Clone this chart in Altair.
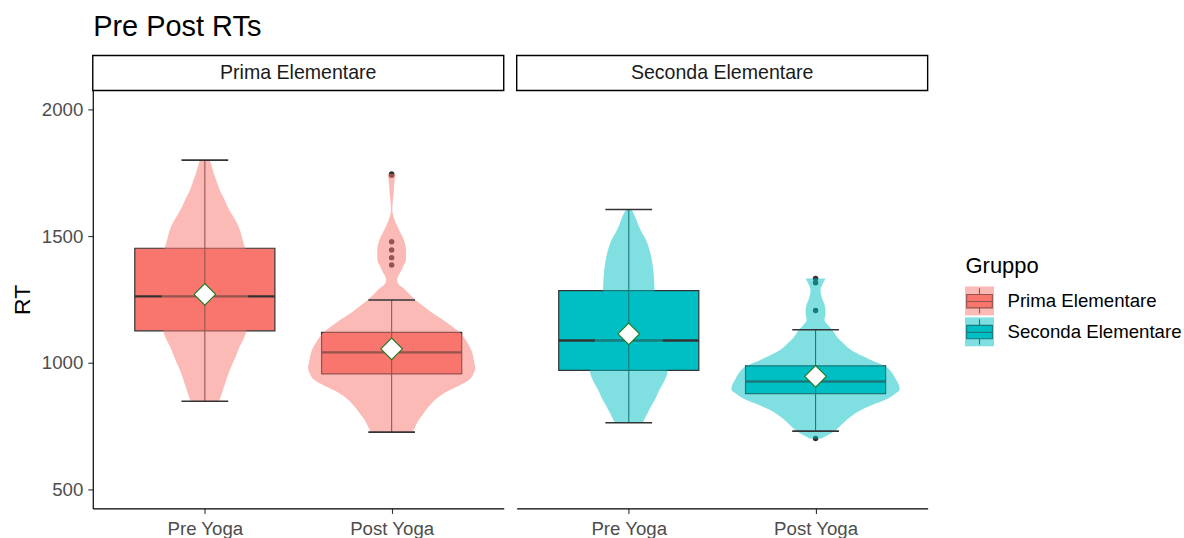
import altair as alt
import pandas as pd

# ---------------- data ----------------
groups = ["Prima Elementare", "Seconda Elementare"]
conditions = ["Pre Yoga", "Post Yoga"]
fill_colors = ["#F8766D", "#00BFC4"]

# box-plot statistics (one entry per group x condition)
box_group = ["Prima Elementare", "Prima Elementare", "Seconda Elementare", "Seconda Elementare"]
box_cond = ["Pre Yoga", "Post Yoga", "Pre Yoga", "Post Yoga"]
whisker_low = [848, 726, 763, 730]
quart_1 = [1126, 956, 970, 878]
medians = [1262, 1041, 1088, 926]
quart_3 = [1452, 1120, 1285, 988]
whisker_high = [1800, 1248, 1605, 1130]
means = [1270, 1055, 1114, 946]

# outliers
out_group = ["Prima Elementare"] * 6 + ["Seconda Elementare"] * 4
out_cond = ["Post Yoga"] * 10
out_rt = [1745, 1740, 1478, 1445, 1415, 1386, 1333, 1316, 1206, 701]

# violin outlines: RT values and relative density (widest = 84.5)
prima_pre_rt = [1800, 1775, 1747, 1715, 1681, 1650, 1615, 1580, 1550, 1515, 1484, 1452, 1400, 1350,
                1300, 1250, 1200, 1160, 1123, 1095, 1064, 1025, 986, 950, 920, 890, 867, 848]
prima_pre_dens = [5, 7, 9, 12, 15, 19, 23, 28, 32.5, 36, 38, 40.5, 42, 43,
                  43.5, 43.4, 43, 42.5, 41.7, 39, 35, 31, 26.7, 23, 20.5, 18, 16, 14]

prima_post_rt = [1745, 1720, 1668, 1630, 1602, 1575, 1550, 1520, 1497, 1470, 1445, 1406, 1385, 1366,
                 1345, 1327, 1310, 1294, 1270, 1248, 1220, 1196, 1160, 1121, 1080, 1040, 1012, 979,
                 955, 933, 910, 881, 855, 828, 800, 776, 750, 726]
prima_post_dens = [4, 3, 2, 1, 0.7, 2, 4.5, 8, 11, 13.5, 14.5, 14.4, 12, 10,
                   7, 5.5, 7, 12, 18, 24, 33, 41, 55, 68, 76, 81, 82.5, 84,
                   82, 78, 68, 53, 44, 37.5, 32, 27.5, 24, 21]

seconda_pre_rt = [1605, 1580, 1550, 1515, 1484, 1450, 1419, 1385, 1353, 1320, 1287, 1250, 1200, 1150,
                  1100, 1050, 1000, 966, 930, 894, 860, 828, 795, 763]
seconda_pre_dens = [3, 6, 9, 13, 17.5, 20.5, 22.5, 24, 25, 25.5, 26, 27, 29, 31,
                    33.5, 36, 38.5, 39, 36, 31, 27, 22.5, 18, 14]

seconda_post_rt = [1333, 1310, 1287, 1270, 1255, 1230, 1209, 1190, 1169, 1150, 1130, 1100, 1077, 1055,
                   1038, 1012, 986, 960, 933, 910, 894, 875, 854, 835, 815, 795, 776, 755,
                   736, 720, 710, 701]
seconda_post_dens = [10, 7, 5, 5.5, 6.5, 9, 10, 9.9, 9, 12, 16.7, 22, 28, 34,
                     41, 55, 70, 77, 81, 84, 84.5, 79, 70, 58, 46.7, 38, 31.7, 26,
                     21, 15, 10, 6]

y_ticks = [500, 1000, 1500, 2000]

# ---------------- tables ----------------
pos_of = {c: i + 1 for i, c in enumerate(conditions)}

box_df = pd.DataFrame({
    "Gruppo": box_group, "cond": box_cond, "lo": whisker_low, "q1": quart_1,
    "med": medians, "q3": quart_3, "hi": whisker_high, "mean": means,
})
box_df["pos"] = box_df["cond"].map(pos_of)

out_df = pd.DataFrame({"Gruppo": out_group, "cond": out_cond, "rt": out_rt})
out_df["pos"] = out_df["cond"].map(pos_of)

violins = {
    ("Prima Elementare", "Pre Yoga"): (prima_pre_rt, prima_pre_dens),
    ("Prima Elementare", "Post Yoga"): (prima_post_rt, prima_post_dens),
    ("Seconda Elementare", "Pre Yoga"): (seconda_pre_rt, seconda_pre_dens),
    ("Seconda Elementare", "Post Yoga"): (seconda_post_rt, seconda_post_dens),
}
max_dens = max(max(d) for _, d in violins.values())
HALF = 0.45  # ggplot violin width 0.9

# ---------------- styling ----------------
FONT = "Liberation Sans"
W, H = 412, 419
DARK = "#333333"

yscale = alt.Scale(domain=[425, 2075], nice=False, zero=False)
xscale = alt.Scale(domain=[0.4, 2.6], nice=False, zero=False)
cscale = alt.Scale(domain=groups, range=fill_colors)

label_expr = " : ".join(
    [f"datum.value == {pos_of[c]} ? '{c}'" for c in conditions[:-1]] + [f"'{conditions[-1]}'"]
)

xaxis = alt.Axis(values=[1, 2], labelExpr=label_expr, title=None, grid=False,
                 domainColor="black", domainWidth=1.2, tickColor=DARK, tickSize=5,
                 tickWidth=1.1, labelColor="#4D4D4D", labelFontSize=18.7, labelFont=FONT,
                 labelPadding=6, labelFlush=False)


def make_yaxis(first):
    if not first:
        return None
    return alt.Axis(values=y_ticks, format="d", title="RT", grid=False,
                    domainColor="black", domainWidth=1.2, tickColor=DARK, tickSize=5,
                    tickWidth=1.1, labelColor="#4D4D4D", labelFontSize=18.7, labelFont=FONT,
                    labelPadding=5, titleFontSize=23, titleFont=FONT, titleColor="black",
                    titleFontWeight="normal", titlePadding=7)


def panel(g, first):
    yaxis = make_yaxis(first)
    X = lambda f: alt.X(f, scale=xscale, axis=xaxis)
    Y = lambda f: alt.Y(f, scale=yscale, axis=yaxis)
    col = alt.Color("Gruppo:N", scale=cscale, legend=None)

    bdf = box_df[box_df["Gruppo"] == g]
    base = alt.Chart(bdf).transform_calculate(
        bx1="datum.pos - 0.375", bx2="datum.pos + 0.375",
        cx1="datum.pos - 0.125", cx2="datum.pos + 0.125",
    )
    box = base.mark_rect(stroke=DARK, strokeWidth=1.2).encode(
        x=X("bx1:Q"), x2="bx2:Q", y=Y("q1:Q"), y2="q3:Q", color=col)
    med = base.mark_rule(color=DARK, strokeWidth=2.4).encode(
        x=X("bx1:Q"), x2="bx2:Q", y=Y("med:Q"))
    vline = base.mark_rule(color=DARK, strokeWidth=1.1).encode(
        x=X("pos:Q"), y=Y("lo:Q"), y2="hi:Q")
    cap_lo = base.mark_rule(color=DARK, strokeWidth=1.6).encode(
        x=X("cx1:Q"), x2="cx2:Q", y=Y("lo:Q"))
    cap_hi = base.mark_rule(color=DARK, strokeWidth=1.6).encode(
        x=X("cx1:Q"), x2="cx2:Q", y=Y("hi:Q"))
    mean = base.mark_point(shape="diamond", filled=True, fill="white", stroke="#1E7A1E",
                           strokeWidth=1.1, size=470, opacity=1).encode(
        x=X("pos:Q"), y=Y("mean:Q"))

    odf = out_df[out_df["Gruppo"] == g]
    outl = alt.Chart(odf).mark_circle(size=30, color=DARK, opacity=1).encode(
        x=X("pos:Q"), y=Y("rt:Q"))

    vio_layers = []
    for c in conditions:
        rts, ds = violins[(g, c)]
        p = pos_of[c]
        vdf = pd.DataFrame({
            "Gruppo": g, "rt": rts,
            "vx1": [p - d / max_dens * HALF for d in ds],
            "vx2": [p + d / max_dens * HALF for d in ds],
        })
        vio_layers.append(
            alt.Chart(vdf).mark_area(orient="horizontal", interpolate="monotone",
                                     fillOpacity=0.5, strokeWidth=0).encode(
                y=Y("rt:Q"), x=X("vx1:Q"), x2="vx2:Q", color=col)
        )

    sdf = pd.DataFrame({"Gruppo": [g]})
    strip = alt.Chart(sdf).mark_rect(fill="white", stroke="black", strokeWidth=1.4).encode(
        x=alt.value(0), x2=alt.value(W), y=alt.value(-35), y2=alt.value(0))
    strip_text = alt.Chart(sdf).mark_text(fontSize=19.6, color="#1A1A1A", baseline="middle",
                                          align="center").encode(
        x=alt.value(W / 2), y=alt.value(-17.5), text="Gruppo:N")

    return alt.layer(box, med, vline, outl, *vio_layers, cap_lo, cap_hi, mean, strip,
                     strip_text).properties(width=W, height=H)


# ---------------- legend (drawn as its own small chart) ----------------
leg_df = pd.DataFrame({"Gruppo": groups, "row": list(range(len(groups)))})
leg_y = alt.Y("row:Q", scale=alt.Scale(domain=[-6.806, 6.710], reverse=True, nice=False,
                                       zero=False), axis=None)
BOX_PATH = ("M-0.92,-0.46L0.92,-0.46L0.92,0.5L-0.92,0.5Z"
            "M0,-0.46L0,-0.9M0,0.5L0,0.9M-0.92,0.04L0.92,0.04")
leg_col = alt.Color("Gruppo:N", scale=cscale, legend=None)
glyph = alt.Chart(leg_df).mark_point(shape=BOX_PATH, filled=True, size=784, stroke=DARK,
                                     strokeWidth=1.1, opacity=1).encode(
    x=alt.value(40), y=leg_y, fill=alt.Fill("Gruppo:N", scale=cscale, legend=None))
keybg = alt.Chart(leg_df).mark_square(size=841, opacity=0.5).encode(
    x=alt.value(40), y=leg_y, color=leg_col)
leg_text = alt.Chart(leg_df).mark_text(align="left", baseline="middle", fontSize=18.7,
                                       color="black").encode(
    x=alt.value(68), y=leg_y, text="Gruppo:N")
leg_title = alt.Chart(pd.DataFrame({"t": ["Gruppo"]})).mark_text(
    align="left", baseline="alphabetic", fontSize=22, color="black").encode(
    x=alt.value(26), y=alt.value(183), text="t:N")
legend = alt.layer(glyph, keybg, leg_text, leg_title).properties(width=245, height=H)

chart = alt.hconcat(panel(groups[0], True), panel(groups[1], False), legend, spacing=11).properties(
    title=alt.TitleParams("Pre Post RTs", anchor="start", fontSize=29, font=FONT,
                          fontWeight="normal", color="black", baseline="alphabetic",
                          offset=-10, dx=82),
    padding={"left": 11, "top": 12, "right": 0, "bottom": 0},
    background="white",
).configure(font=FONT).configure_view(stroke=None)

chart.save("out.html", embed_options={"renderer": "svg", "actions": False})
